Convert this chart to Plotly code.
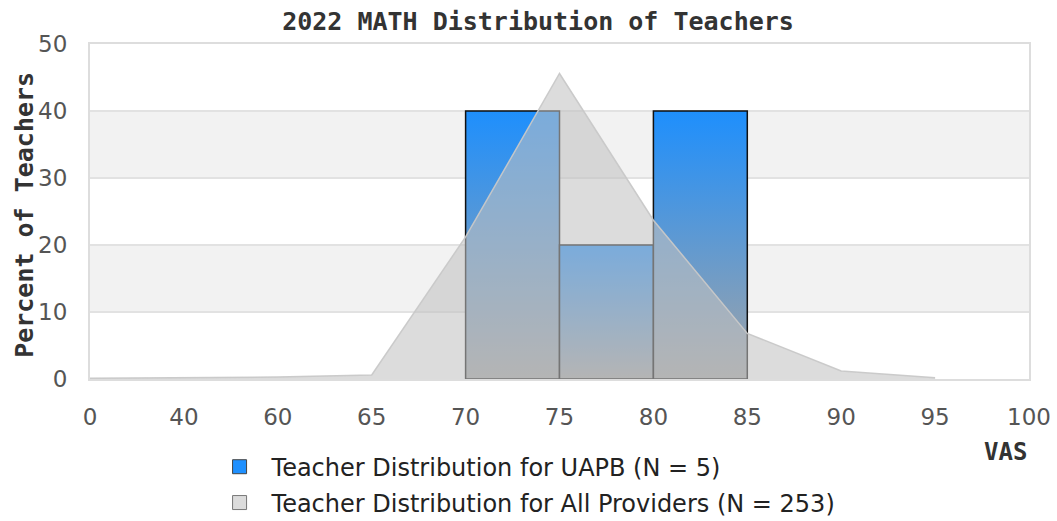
import plotly.graph_objects as go

# Axis categories (evenly spaced VAS tick positions)
vas_ticks = ["0", "40", "60", "65", "70", "75", "80", "85", "90", "95", "100"]

# UAPB teacher distribution: bin start, bin end, percent
uapb_bin_start = [70, 75, 80]
uapb_bin_end = [75, 80, 85]
uapb_pct = [40, 20, 40]

# All providers distribution, one value per VAS point
all_vas = [0, 40, 60, 65, 70, 75, 80, 85, 90, 95]
all_pct = [0.1, 0.2, 0.3, 0.6, 21.2, 45.6, 23.7, 6.8, 1.2, 0.2]

pos = {int(t): i for i, t in enumerate(vas_ticks)}

MONO = "DejaVu Sans Mono"
SANS = "DejaVu Sans"

fig = go.Figure()

# UAPB bars with a vertical blue-to-grey gradient
for x0v, x1v, h in zip(uapb_bin_start, uapb_bin_end, uapb_pct):
    x0, x1 = pos[x0v], pos[x1v]
    fig.add_trace(go.Scatter(
        x=[x0, x0, x1, x1, x0], y=[0, h, h, 0, 0],
        mode="lines", fill="toself",
        fillgradient=dict(type="vertical",
                          colorscale=[[0, "#a4a4a4"], [1, "#1e8ffd"]]),
        line=dict(color="#111111", width=1.5),
        showlegend=False, hoverinfo="skip",
    ))

# All providers area, semi-transparent over the bars
fig.add_trace(go.Scatter(
    x=[pos[v] for v in all_vas], y=all_pct,
    mode="lines", fill="tozeroy",
    fillcolor="rgba(194,194,194,0.57)",
    line=dict(color="rgba(200,200,200,0.95)", width=1.5),
    showlegend=False,
))

# Legend entries
fig.add_trace(go.Scatter(
    x=[None], y=[None], mode="markers",
    marker=dict(symbol="square", size=14, color="#1e90ff",
                line=dict(color="#444444", width=1)),
    name="Teacher Distribution for UAPB (N = 5)", legend="legend",
))
fig.add_trace(go.Scatter(
    x=[None], y=[None], mode="markers",
    marker=dict(symbol="square", size=14, color="#dcdcdc",
                line=dict(color="#777777", width=1)),
    name="Teacher Distribution for All Providers (N = 253)", legend="legend2",
))

# Alternating horizontal bands
shapes = []
for lo, hi in [(10, 20), (30, 40)]:
    shapes.append(dict(type="rect", xref="paper", yref="y", x0=0, x1=1,
                       y0=lo, y1=hi, fillcolor="#f2f2f2",
                       line=dict(width=0), layer="below"))

legend_font = dict(family=SANS, size=24, color="#222222")
legend_common = dict(x=0.1252, xanchor="left", yanchor="middle",
                     font=legend_font, bgcolor="rgba(0,0,0,0)",
                     itemwidth=54)

fig.update_layout(
    width=1057, height=521,
    margin=dict(l=90, r=28, t=44, b=142, autoexpand=False),
    paper_bgcolor="white", plot_bgcolor="white",
    shapes=shapes,
    title=dict(text="2022 MATH Distribution of Teachers",
               x=0.509, xanchor="center", y=0.96, yanchor="middle",
               font=dict(family=MONO, size=25, color="#333333", weight="bold")),
    xaxis=dict(
        range=[0, 10], tickmode="array",
        tickvals=list(range(len(vas_ticks))), ticktext=vas_ticks,
        showgrid=False, zeroline=False,
        showline=True, mirror=True, linecolor="#dddddd", linewidth=2,
        ticks="", ticklabelstandoff=16,
        tickfont=dict(family=SANS, size=23, color="#555555"),
    ),
    yaxis=dict(
        range=[0, 50], tickvals=[0, 10, 20, 30, 40, 50],
        showgrid=True, gridcolor="#e2e2e2", gridwidth=1.5, zeroline=False,
        showline=True, mirror=True, linecolor="#dddddd", linewidth=2,
        ticks="", ticklabelstandoff=16,
        tickfont=dict(family=SANS, size=23, color="#555555"),
    ),
    legend=dict(y=-0.263, **legend_common),
    legend2=dict(y=-0.370, **legend_common),
    annotations=[
        dict(text="VAS", xref="paper", yref="paper",
             x=1.0, xanchor="right", y=-0.218, yanchor="middle",
             showarrow=False,
             font=dict(family=MONO, size=24, color="#333333", weight="bold")),
        dict(text="Percent of Teachers", xref="paper", yref="paper",
             x=-0.0692, xanchor="center", y=0.49, yanchor="middle",
             textangle=-90, showarrow=False,
             font=dict(family=MONO, size=25, color="#333333", weight="bold")),
    ],
)

fig.write_html("out.html")
